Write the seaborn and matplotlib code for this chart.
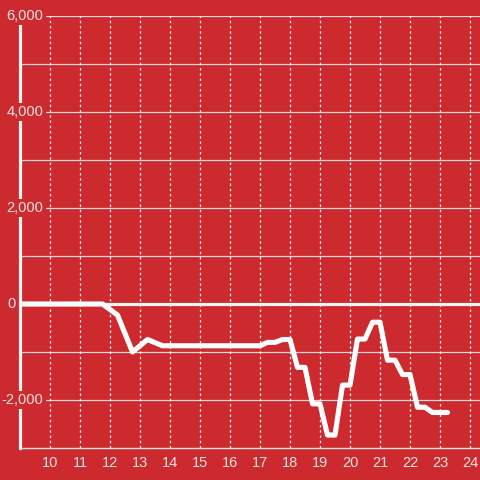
import numpy as np
import pandas as pd
import seaborn as sns
import matplotlib.pyplot as plt
import matplotlib.transforms as mtransforms

# DATA - hour of day vs. running value (kinks of the line)
hours = [9.0, 11.75, 12.25, 12.75, 13.25, 13.75, 17.0, 17.25, 17.5, 17.75,
         18.0, 18.25, 18.5, 18.75, 19.0, 19.25, 19.5, 19.75, 20.0, 20.25,
         20.5, 20.75, 21.0, 21.25, 21.5, 21.75, 22.0, 22.25, 22.5, 22.75,
         23.25]
values = [0, 0, -230, -1000, -740, -870, -870, -800, -800, -740,
          -740, -1320, -1320, -2080, -2080, -2730, -2730, -1690, -1690, -730,
          -730, -380, -380, -1170, -1170, -1470, -1470, -2150, -2150, -2260,
          -2260]
x_ticks = list(range(10, 25))
y_major = [-2000, 0, 2000, 4000, 6000]
y_grid = [-2000, -1000, 1000, 2000, 3000, 4000, 5000, 6000]

red = '#cc2a2f'
pale = '#f3e4e4'

sns.set_style('white')
plt.rcParams['font.family'] = ['Liberation Sans', 'DejaVu Sans']

data = pd.DataFrame({'hour': hours, 'value': values})

fig = plt.figure(figsize=(4.8, 4.8), dpi=100, facecolor=red)
ax = fig.add_axes([20 / 480, 32 / 480, 460 / 480, 432 / 480])
ax.set_facecolor(red)

ax.set_xlim(9, 9 + 460 / 30)
ax.set_ylim(-3000, 6000)

# grid
for v in y_grid:
    ax.axhline(v, color='#d9d9d9', lw=0.9, zorder=1)
for h in x_ticks:
    ax.axvline(h, color='#f4f4f4', lw=0.9, ls=(0, (2, 2.2)), zorder=1)
ax.axhline(0, color='#f4f4f4', lw=2.3, zorder=2)

sns.lineplot(data=data, x='hour', y='value', ax=ax, color='white',
             linewidth=3.7, zorder=3)

ax.set_xlabel('')
ax.set_ylabel('')
ax.set_xticks(x_ticks)
ax.set_xticklabels([str(h) for h in x_ticks])
ax.set_yticks([])
ax.tick_params(axis='x', length=0, pad=6, labelsize=10.5, labelcolor=pale)

for s in ['top', 'right']:
    ax.spines[s].set_visible(False)
ax.spines['bottom'].set_color('#e0e0e0')
ax.spines['bottom'].set_linewidth(1.0)
ax.spines['left'].set_color('#f4f4f4')
ax.spines['left'].set_linewidth(2.3)
ax.spines['left'].set_zorder(4)

# y labels, right-aligned next to the axis like the original
trans = mtransforms.blended_transform_factory(fig.dpi_scale_trans, ax.transData)
for v in y_major:
    lab = f'{v:,}'
    x = 15.5 / 100 if len(lab) == 1 else 43.5 / 100
    ax.text(x, v, lab, transform=trans, ha='right', va='center', fontsize=10.5,
            color=pale, zorder=5, clip_on=False,
            bbox=dict(facecolor=red, edgecolor='none', pad=1.5))

fig.savefig('out.png', dpi=100, facecolor=red)
